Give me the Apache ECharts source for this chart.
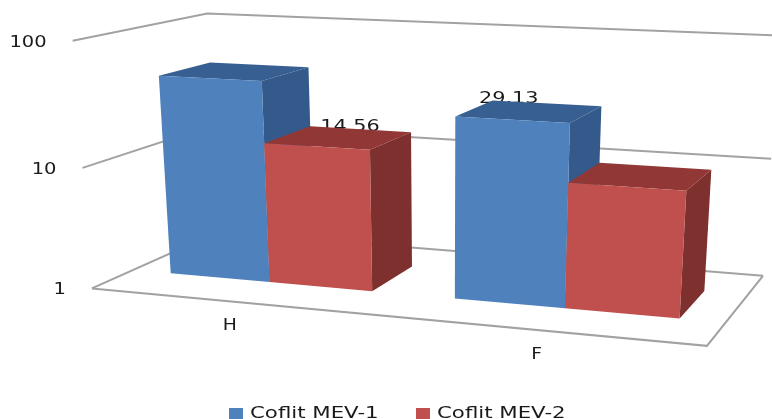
<!DOCTYPE html>
<html><head><meta charset="utf-8">
<style>html,body{margin:0;padding:0;background:#fff}#c{width:772px;height:419px;filter:blur(0.5px)}</style>
<script src="https://cdn.jsdelivr.net/npm/echarts@6/dist/echarts.min.js"></script>
</head><body><div id="c"></div>
<script>
const categories = ['H', 'F'];
const tickValues = [1, 10, 100];
const mev1Name = 'Coflit MEV-1';
const mev2Name = 'Coflit MEV-2';
const mev1Values = [46, 29.13];
const mev2Values = [14.56, 10.1];
const mev1Labels = [null, '29.13'];
const mev2Labels = ['14.56', null];

// Camera: where the chart box's edges land on the page (box u, depth d, log-height h -> px)
const camera = [
  [0,0,0,92,288],[0,1,0,218,233],[1,1,0,763,275],[1,0,0,707,346],
  [0,0,2,73,41],[0,1,2,207,14],[1,1,2,780,35],
  [0,0,1,82,168],[0,1,1,213,124],[1,1,1,771,160]
];
function solve(A, b) {
  const n = b.length, M = A.map((r, i) => r.concat(b[i]));
  for (let i = 0; i < n; i++) {
    let p = i; for (let k = i + 1; k < n; k++) if (Math.abs(M[k][i]) > Math.abs(M[p][i])) p = k;
    [M[i], M[p]] = [M[p], M[i]];
    for (let k = 0; k < n; k++) if (k !== i) {
      const f = M[k][i] / M[i][i];
      for (let j = i; j <= n; j++) M[k][j] -= f * M[i][j];
    }
  }
  return M.map((r, i) => r[n] / r[i]);
}
const P = (function () {
  const rows = [], rhs = [];
  camera.forEach(([u, d, h, x, y]) => {
    rows.push([u, d, h, 1, 0, 0, 0, 0, -x * u, -x * d, -x * h]); rhs.push(x);
    rows.push([0, 0, 0, 0, u, d, h, 1, -y * u, -y * d, -y * h]); rhs.push(y);
  });
  const N = Array.from({ length: 11 }, (_, i) => Array.from({ length: 11 }, (_, j) => rows.reduce((s, r) => s + r[i] * r[j], 0)));
  const v = Array.from({ length: 11 }, (_, i) => rows.reduce((s, r, k) => s + r[i] * rhs[k], 0));
  return solve(N, v);
})();
function project(u, d, h) {
  const w = P[8] * u + P[9] * d + P[10] * h + 1;
  return [(P[0] * u + P[1] * d + P[2] * h + P[3]) / w, (P[4] * u + P[5] * d + P[6] * h + P[7]) / w];
}
const barDepth = [0.3, 0.7];
const barHalf = 0.36; // share of a category band used by one bar

function toBox(params, pt) {
  const r = params.coordSys;
  return [(pt[0] - r.x) / r.width, 2 * (1 - (pt[1] - r.y) / r.height)];
}
function txt(x, y, s, size, sx, align) {
  return { type: 'text', x: x, y: y, scaleX: sx, style: { text: s, fill: '#1a1a1a', font: size + 'px "DejaVu Sans"', align: align, verticalAlign: 'middle' } };
}
function barSeries(name, values, labels, side, cols, labelOffset) {
  return {
    type: 'custom', name: name, coordinateSystem: 'cartesian2d', silent: true,
    itemStyle: { color: cols[0] }, clip: false,
    data: values.map((v, i) => [i, v]),
    renderItem: function (params, api) {
      const i = api.value(0), v = api.value(1);
      const top = toBox(params, api.coord([i, v]));
      const base = toBox(params, api.coord([i, 1]));
      const bw = api.size([1, 0])[0] / params.coordSys.width;
      const a = side < 0 ? top[0] - bw * barHalf : top[0];
      const b = side < 0 ? top[0] : top[0] + bw * barHalf;
      const [d0, d1] = barDepth;
      const poly = (pts, fill) => ({ type: 'polygon', shape: { points: pts }, style: { fill: fill } });
      const children = [];
      if (labels[i]) {
        const p = project((a + b) / 2, (d0 + d1) / 2, top[1]);
        children.push(txt(p[0] + labelOffset[0], p[1] + labelOffset[1], labels[i], 16, 1.3, 'center'));
      }
      children.push(poly([project(b, d0, base[1]), project(b, d1, base[1]), project(b, d1, top[1]), project(b, d0, top[1])], cols[1]));
      children.push(poly([project(a, d0, top[1]), project(b, d0, top[1]), project(b, d1, top[1]), project(a, d1, top[1])], cols[2]));
      children.push(poly([project(a, d0, base[1]), project(b, d0, base[1]), project(b, d0, top[1]), project(a, d0, top[1])], cols[0]));
      return { type: 'group', children: children };
    }
  };
}
const lineStyle = { stroke: '#a2a2a2', lineWidth: 2, fill: null };
const frameSeries = {
  type: 'custom', name: 'frame', coordinateSystem: 'cartesian2d', silent: true, clip: false, z: 1,
  data: tickValues.map(v => [0, v]),
  renderItem: function (params, api) {
    const v = api.value(1);
    const h = toBox(params, api.coord([0, v]))[1];
    const fl = project(0, 0, h), bl = project(0, 1, h), br = project(1, 1, h), fr = project(1, 0, 0);
    const children = [
      { type: 'polyline', shape: { points: [fl, bl, br] }, style: lineStyle },
      txt(fl[0] - 26, fl[1] + 2, String(v), 15, 1.3, 'right')
    ];
    if (v === tickValues[0]) {
      children.push({ type: 'polyline', shape: { points: [fl, fr, br] }, style: lineStyle });
    }
    return { type: 'group', children: children };
  }
};
const categorySeries = {
  type: 'custom', name: 'cats', coordinateSystem: 'cartesian2d', silent: true, clip: false, z: 1,
  data: categories.map((c, i) => [i, tickValues[0]]),
  renderItem: function (params, api) {
    const i = api.value(0);
    const b = toBox(params, api.coord([i, tickValues[0]]));
    const p = project(b[0], 0, b[1]);
    return txt(p[0] - 3, p[1] + 25, categories[i], 15, 1.25, 'center');
  }
};
function legendItem(name, color, x) {
  return { type: 'group', x: x, y: 414, children: [
    { type: 'rect', shape: { x: 0, y: -6, width: 14, height: 12 }, style: { fill: color } },
    { type: 'text', x: 21, y: 0, scaleX: 1.33, style: { text: name, fill: '#1a1a1a', font: '16px "DejaVu Sans"', verticalAlign: 'middle' } }
  ] };
}
const colorsOne = ['#4f81bd', '#335a8a', '#375f91'];
const colorsTwo = ['#c0504d', '#7d302e', '#913735'];
const chart = echarts.init(document.getElementById('c'), null, { renderer: 'canvas' });
chart.setOption({
  animation: false,
  backgroundColor: '#fff',
  grid: { left: 100, right: 100, top: 50, bottom: 100 },
  xAxis: { type: 'category', data: categories, show: false },
  yAxis: { type: 'log', min: 1, max: 100, show: false },
  graphic: [legendItem(mev1Name, colorsOne[0], 229), legendItem(mev2Name, colorsTwo[0], 416)],
  series: [
    frameSeries, categorySeries,
    Object.assign(barSeries(mev1Name, mev1Values, mev1Labels, -1, colorsOne, [-21, -12]), { z: 2 }),
    Object.assign(barSeries(mev2Name, mev2Values, mev2Labels, 1, colorsTwo, [11, -11]), { z: 3 })
  ]
});
</script></body></html>
